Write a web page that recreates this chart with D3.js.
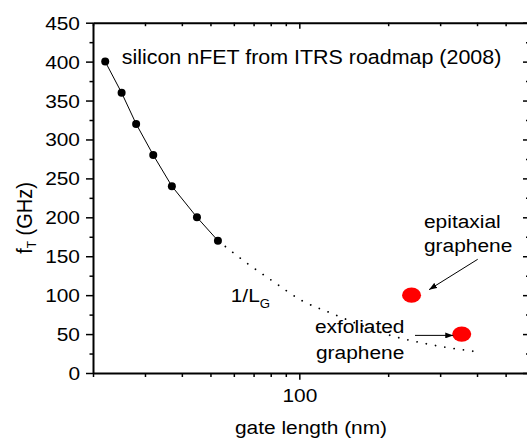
<!DOCTYPE html>
<html>
<head>
<meta charset="utf-8">
<script src="https://cdn.jsdelivr.net/npm/d3@7"></script>
<style>
  html, body { margin: 0; padding: 0; background: #fff; }
  svg { display: block; }
  text { font-family: "Liberation Sans", Arial, sans-serif; fill: #000; }
</style>
</head>
<body>
<svg id="chart" width="527" height="438"></svg>
<script>
// Silicon nFET cut-off frequency vs. gate length (ITRS roadmap 2008)
const siliconGateLength = [22, 25, 28, 32, 37, 45, 53];          // nm
const siliconFt         = [400, 360, 320, 280, 240, 200, 170];   // GHz

// 1/L_G extrapolation beyond the roadmap
const trendGateLength = [53, 66, 82, 102, 128, 209, 283, 404];
const trendFt         = [170, 142, 117, 93, 77, 47, 36, 27];

// Graphene transistors
const grapheneNames      = ["epitaxial graphene", "exfoliated graphene"];
const grapheneGateLength = [240, 355];
const grapheneFt         = [100, 50];

// Axis ticks
const yMajorTicks = [0, 50, 100, 150, 200, 250, 300, 350, 400, 450];
const yMinorTicks = [25, 75, 125, 175, 225, 275, 325, 375, 425];
const xMajorTicks = [100];
const xMinorTicks = [20, 30, 40, 50, 60, 70, 80, 90, 200, 300, 400, 500, 600];

const FS = 19;      // base font size
const SX = 1.1;     // horizontal stretch of lettering

const svg = d3.select("#chart");
const plotL = 93, plotR = 529, plotT = 22.7, plotB = 373;
const rightAxisX = 530.5;

const x = d3.scaleLog().domain([20, 600]).range([plotL, plotR]);
const y = d3.scaleLinear().domain([0, 450]).range([plotB, plotT]);

function styleAxis(g) {
  g.select(".domain").attr("stroke", "#000").attr("stroke-width", 2);
  g.selectAll(".tick line").attr("stroke", "#000").attr("stroke-width", 1.5);
}

// Left axis (outward ticks, labelled)
const gl = svg.append("g").attr("transform", `translate(${plotL},0)`)
  .call(d3.axisLeft(y).tickValues(yMajorTicks).tickSize(7).tickSizeOuter(0).tickPadding(0));
gl.selectAll(".tick text")
  .attr("font-size", FS).attr("font-family", "Liberation Sans, Arial, sans-serif")
  .attr("x", -13 / SX).attr("dy", "0.34em")
  .attr("transform", `scale(${SX},1)`);
styleAxis(gl);
svg.append("g").attr("transform", `translate(${plotL},0)`)
  .call(d3.axisLeft(y).tickValues(yMinorTicks).tickSize(3.5).tickFormat(""))
  .call(g => { g.select(".domain").remove(); styleAxis(g); });

// Right axis (inward ticks)
const gr = svg.append("g").attr("transform", `translate(${rightAxisX},0)`)
  .call(d3.axisLeft(y).tickValues(yMajorTicks).tickSize(7.5).tickSizeOuter(0).tickFormat(""));
styleAxis(gr);
svg.append("g").attr("transform", `translate(${rightAxisX},0)`)
  .call(d3.axisLeft(y).tickValues(yMinorTicks).tickSize(4.5).tickFormat(""))
  .call(g => { g.select(".domain").remove(); styleAxis(g); });

// Bottom axis (outward ticks, labelled)
const gb = svg.append("g").attr("transform", `translate(0,${plotB})`)
  .call(d3.axisBottom(x).tickValues(xMajorTicks).tickSize(6.7).tickSizeOuter(0)
    .tickFormat(d3.format("d")).tickPadding(0));
gb.selectAll(".tick text")
  .attr("font-size", FS).attr("font-family", "Liberation Sans, Arial, sans-serif")
  .attr("y", 0).attr("dy", 28.7)
  .attr("transform", `scale(${SX},1)`);
styleAxis(gb);
svg.append("g").attr("transform", `translate(0,${plotB})`)
  .call(d3.axisBottom(x).tickValues(xMinorTicks).tickSize(4).tickFormat(""))
  .call(g => { g.select(".domain").remove(); styleAxis(g); });

// Top axis (inward ticks)
const gt = svg.append("g").attr("transform", `translate(0,${plotT})`)
  .call(d3.axisBottom(x).tickValues(xMajorTicks).tickSize(6).tickSizeOuter(0).tickFormat(""));
styleAxis(gt);
svg.append("g").attr("transform", `translate(0,${plotT})`)
  .call(d3.axisBottom(x).tickValues(xMinorTicks).tickSize(3.5).tickFormat(""))
  .call(g => { g.select(".domain").remove(); styleAxis(g); });

// Stretched text helper
function label(xp, yp, str, anchor = "start", size = FS) {
  return svg.append("text")
    .attr("transform", `translate(${xp},${yp}) scale(${SX},1)`)
    .attr("text-anchor", anchor)
    .attr("font-size", size)
    .text(str);
}

// Axis titles
label((plotL + plotR) / 2, 433.5, "gate length (nm)", "middle");
const yt = svg.append("text")
  .attr("transform", `translate(31.5,218) scale(${SX},1) rotate(-90)`)
  .attr("text-anchor", "middle")
  .attr("font-size", 20);
yt.append("tspan").text("f");
yt.append("tspan").attr("font-size", 12).attr("dy", 4).text("T");
yt.append("tspan").attr("dy", -4).text(" (GHz)");

// 1/L_G extrapolation (dotted)
const trend = trendGateLength.map((d, i) => [d, trendFt[i]]);
svg.append("path")
  .datum(trend)
  .attr("fill", "none")
  .attr("stroke", "#000")
  .attr("stroke-width", 1.8)
  .attr("stroke-linecap", "round")
  .attr("stroke-dasharray", "0.01 9.4")
  .attr("d", d3.line().x(d => x(d[0])).y(d => y(d[1])).curve(d3.curveMonotoneX));

// Silicon roadmap line and points
const silicon = siliconGateLength.map((d, i) => [d, siliconFt[i]]);
svg.append("path")
  .datum(silicon)
  .attr("fill", "none")
  .attr("stroke", "#000")
  .attr("stroke-width", 1)
  .attr("d", d3.line().x(d => x(d[0])).y(d => y(d[1])));
svg.selectAll("circle.si")
  .data(silicon)
  .join("circle")
  .attr("class", "si")
  .attr("cx", d => x(d[0]))
  .attr("cy", d => y(d[1]))
  .attr("r", 4)
  .attr("fill", "#000");

// Graphene devices
svg.selectAll("ellipse.gr")
  .data(grapheneGateLength.map((d, i) => ({ L: d, f: grapheneFt[i], name: grapheneNames[i] })))
  .join("ellipse")
  .attr("class", "gr")
  .attr("cx", d => x(d.L))
  .attr("cy", d => y(d.f))
  .attr("rx", 9.5)
  .attr("ry", 7.7)
  .attr("fill", "#ff0000");

// Arrows
svg.append("defs").append("marker")
  .attr("id", "head")
  .attr("markerUnits", "userSpaceOnUse")
  .attr("markerWidth", 9).attr("markerHeight", 6)
  .attr("refX", 8).attr("refY", 3)
  .attr("orient", "auto")
  .append("path").attr("d", "M0,0 L8,3 L0,6 Z").attr("fill", "#000");

const epi = { L: grapheneGateLength[0], f: grapheneFt[0] };
const exf = { L: grapheneGateLength[1], f: grapheneFt[1] };
svg.append("line")
  .attr("x1", 477.7).attr("y1", 259.3)
  .attr("x2", x(epi.L) + 17.5).attr("y2", y(epi.f) - 5.5)
  .attr("stroke", "#000").attr("stroke-width", 1)
  .attr("marker-end", "url(#head)");
svg.append("line")
  .attr("x1", 415).attr("y1", y(exf.f) + 1.3)
  .attr("x2", x(exf.L) - 8.5).attr("y2", y(exf.f) + 1.3)
  .attr("stroke", "#000").attr("stroke-width", 1)
  .attr("marker-end", "url(#head)");

// Annotations
label(121.7, 64.3, "silicon nFET from ITRS roadmap (2008)", "start", 19.5);
label(424, 228.3, "epitaxial");
label(424, 251.7, "graphene");
label(315, 333.3, "exfoliated");
label(316, 359.3, "graphene");

const lg = svg.append("text")
  .attr("transform", `translate(230.7,301.7) scale(${SX},1)`)
  .attr("font-size", FS);
lg.append("tspan").text("1/L");
lg.append("tspan").attr("font-size", 12).attr("dy", 6.6).text("G");
</script>
</body>
</html>
